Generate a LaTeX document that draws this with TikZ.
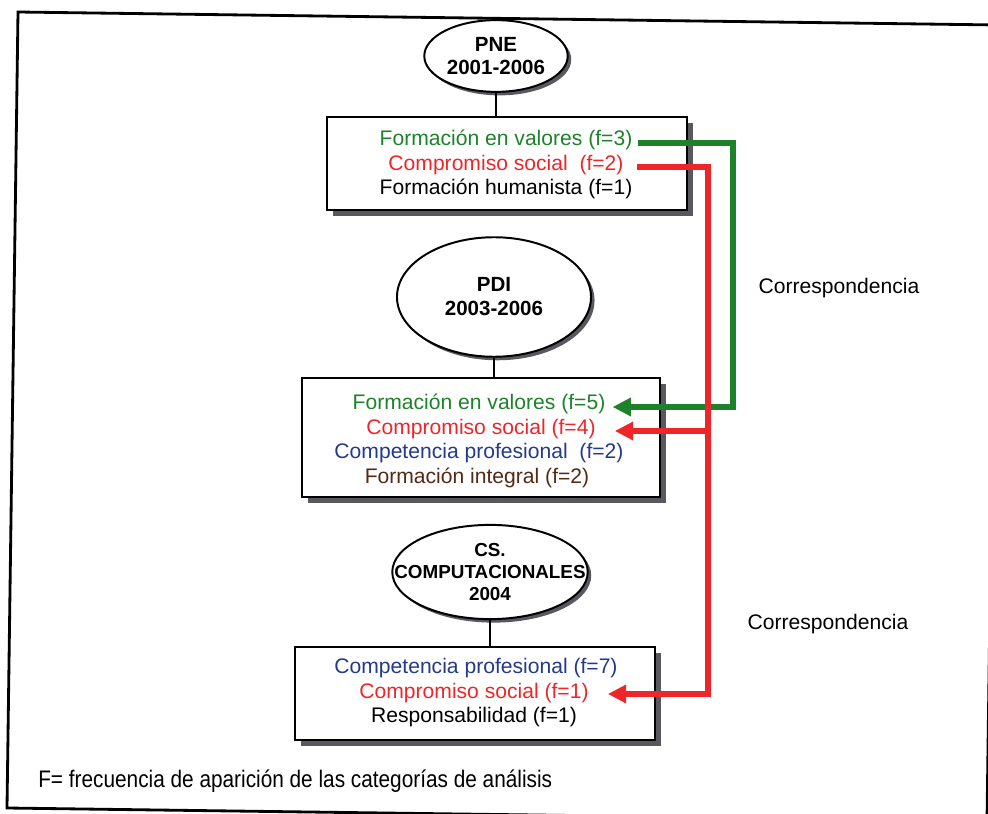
\documentclass[tikz,border=0pt]{standalone}
\usepackage{fontspec}
\setmainfont{Liberation Sans}
\usetikzlibrary{shapes.geometric,arrows.meta,shadows,calc}
\definecolor{valgreen}{RGB}{30,130,42}
\definecolor{socred}{RGB}{238,38,42}
\definecolor{profblue}{RGB}{36,58,138}
\definecolor{intbrown}{RGB}{84,42,20}
\definecolor{shade}{RGB}{88,88,94}
\begin{document}
\begin{tikzpicture}[x=0.025cm,y=-0.025cm,
  plan/.style={ellipse,draw,line width=1.4pt,fill=white,inner sep=0pt,
    drop shadow={fill=shade,opacity=1,shadow xshift=2.5pt,shadow yshift=-2.5pt}},
  plantext/.style={font=\fontsize{14.6}{16.5}\selectfont\bfseries,align=center},
  catbox/.style={rectangle,draw,line width=1.2pt,fill=white,inner sep=0pt,
    drop shadow={fill=shade,opacity=1,shadow xshift=4pt,shadow yshift=-4.5pt}},
  item/.style={inner sep=0pt,font=\fontsize{15}{18}\selectfont},
  note/.style={inner sep=0pt,font=\fontsize{15}{18}\selectfont},
  stem/.style={line width=1.2pt},
  link/.style={line width=4.3pt},
  tip/.style={-{Triangle[length=13pt,width=12.5pt]}}]

\useasboundingbox (0,0) rectangle (988,814);
\clip (0,0) rectangle (988,814);
\fill[white] (0,0) rectangle (988,814);

% outer frame
\draw[line width=2pt] (18,12) -- (998,25) -- (987,821) -- (7,808) -- cycle;

% plans
\node[plan,minimum width=102pt,minimum height=51pt,
  label={[plantext]center:PNE\\2001-2006}] (pne) at (496,56) {};
\node[plan,minimum width=138pt,minimum height=85pt,
  label={[plantext,font=\fontsize{14.6}{17}\selectfont\bfseries]center:PDI\\2003-2006}] (pdi) at (494,297) {};
\node[plan,minimum width=139pt,minimum height=67pt,
  label={[plantext,font=\fontsize{13.4}{15.3}\selectfont\bfseries]center:CS.\\COMPUTACIONALES\\2004}] (cs) at (490,572) {};

% category boxes
\node[catbox,minimum width=256pt,minimum height=66pt] (b1) at (507,163.5) {};
\node[catbox,minimum width=254.6pt,minimum height=84.6pt] (b2) at (481,437.5) {};
\node[catbox,minimum width=256pt,minimum height=66pt] (b3) at (475,693.5) {};

% stems
\draw[stem] (pne.south) -- (pne.south |- b1.north);
\draw[stem] (pdi.south) -- (pdi.south |- b2.north);
\draw[stem] (cs.south) -- (cs.south |- b3.north);

% categories
\node[item,valgreen] (v1) at (506,140) {Formación en valores (f=3)};
\node[item,socred] (c1) at (506,165) {Compromiso social\ \ (f=2)};
\node[item] (h1) at (506,189) {Formación humanista (f=1)};

\node[item,valgreen] (v2) at (479,404) {Formación en valores (f=5)};
\node[item,socred] (c2) at (481,429) {Compromiso social (f=4)};
\node[item,profblue] (p2) at (479,453) {Competencia profesional\ \ (f=2)};
\node[item,intbrown] (i2) at (477,478) {Formación integral (f=2)};

\node[item,profblue] (p3) at (476,668) {Competencia profesional (f=7)};
\node[item,socred] (c3) at (474,693) {Compromiso social (f=1)};
\node[item] (r3) at (474,717) {Responsabilidad (f=1)};

% correspondence connectors
\coordinate (gx) at (733,300);
\coordinate (rx) at (708,400);
\draw[link,valgreen,tip] ($(v1.east)+(5,3)$) -| (gx) |- ($(v2.east)+(7,3)$);
\draw[link,socred,tip] ($(c1.east)+(13,2)$) -| (rx) |- ($(c3.east)+(19,1)$);
\draw[link,socred,tip] ($(rx |- c2.east)+(0,2)$) -- ($(c2.east)+(19,2)$);

\node[note] (k1) at (839,288) {Correspondencia};
\node[note] (k2) at (828,624) {Correspondencia};

\node[inner sep=0pt,anchor=west,font=\fontsize{17}{20}\selectfont] (fn) at (38,781)
  {\scalebox{0.87}[1]{F= frecuencia de aparición de las categorías de análisis}};
\end{tikzpicture}
\end{document}
